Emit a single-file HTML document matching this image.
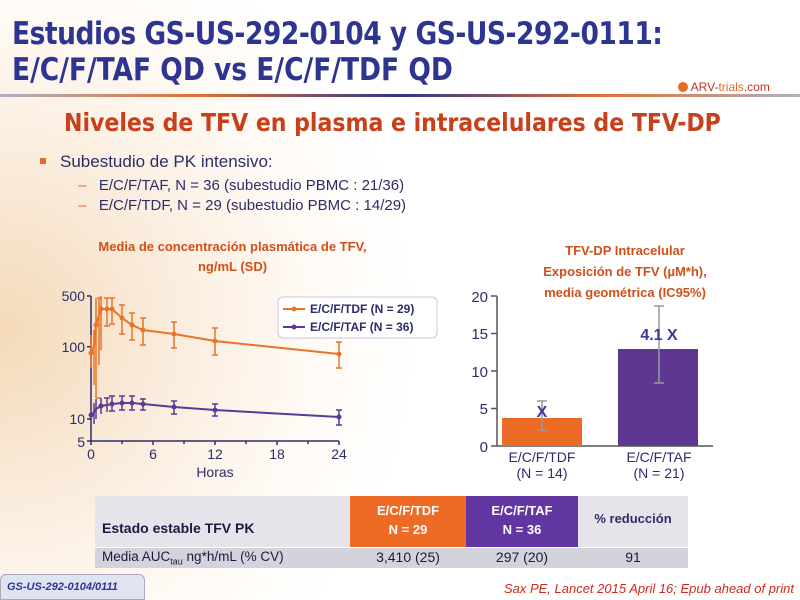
<!DOCTYPE html><html><head><meta charset="utf-8"><style>
body{margin:0;width:800px;height:600px;overflow:hidden;font-family:"Liberation Sans",sans-serif;position:relative;
background:radial-gradient(ellipse 420px 420px at 0px 330px,#f3d9b8 0%,#fbeee0 45%,#fffaf5 75%,#fff 100%);}
.a{position:absolute;white-space:nowrap}
.t{color:#2d3590;font-weight:bold;font-size:31px;left:12px;letter-spacing:-0.5px;font-family:"DejaVu Sans Condensed","Liberation Sans Narrow","Liberation Sans",sans-serif;transform:scaleX(0.95);transform-origin:0 0}
</style></head><body>
<div class="a t" style="top:16px">Estudios GS-US-292-0104 y GS-US-292-0111:</div>
<div class="a t" style="top:52px;letter-spacing:0px">E/C/F/TAF QD vs E/C/F/TDF QD</div>
<div class="a" style="left:0;top:94px;width:800px;height:3px;background:linear-gradient(90deg,#b0b0c0,#e07030 25%,#2d3590 50%,#e07030 75%,#b0b0c0)"></div>
<div class="a" style="left:678px;top:80px;font-size:12px;color:#c03020"><span style="display:inline-block;width:10px;height:10px;border-radius:5px;background:#e86a20;vertical-align:-1px"></span> ARV-<span style="color:#e86a20">trials</span>.com</div>
<div class="a" style="left:64px;top:108px;font-size:24.5px;font-weight:bold;color:#c8401a;font-family:'DejaVu Sans Condensed','Liberation Sans',sans-serif">Niveles de TFV en plasma e intracelulares de TFV-DP</div>
<div class="a" style="left:40px;top:152px;font-size:17px;color:#2d2d6a"><span style="display:inline-block;width:6px;height:6px;background:#e06a30;vertical-align:3px;margin-right:14px"></span>Subestudio de PK  intensivo:</div>
<div class="a" style="left:78px;top:177px;font-size:15px;color:#2d2d6a"><span style="color:#e06a30">–</span>&nbsp;&nbsp; E/C/F/TAF, N = 36 (subestudio PBMC : 21/36)</div>
<div class="a" style="left:78px;top:197px;font-size:15px;color:#2d2d6a"><span style="color:#e06a30">–</span>&nbsp;&nbsp; E/C/F/TDF, N = 29 (subestudio PBMC : 14/29)</div>
<div class="a" style="left:90px;top:237px;width:285px;text-align:center;font-size:13px;font-weight:bold;color:#d0501a;line-height:20px;white-space:normal">Media de concentración plasmática de TFV, ng/mL (SD)</div>
<div class="a" style="left:500px;top:240px;width:250px;text-align:center;font-size:13px;font-weight:bold;color:#d0501a;line-height:21px;white-space:normal">TFV-DP Intracelular<br>Exposición de TFV (µM*h),<br>media geométrica (IC95%)</div>
<svg class="a" style="left:0;top:0" width="800" height="600" font-family="Liberation Sans,sans-serif">
<g stroke="#2d2d6a" stroke-width="1.5" fill="none"><path d="M91 296V441H339"/>
<path d="M87 296H91M87 346.7H91M87 419H91M87 441H91M91 441v4M153 441v4M215 441v4M277 441v4M339 441v4M122 441v3M184 441v3M246 441v3M308 441v3"/></g>
<g fill="#2d2d6a" font-size="14" text-anchor="end"><text x="85" y="301">500</text><text x="85" y="352">100</text><text x="85" y="424">10</text><text x="85" y="447">5</text></g>
<g fill="#2d2d6a" font-size="14" text-anchor="middle"><text x="91" y="459">0</text><text x="153" y="459">6</text><text x="215" y="459">12</text><text x="277" y="459">18</text><text x="339" y="459">24</text><text x="215" y="477">Horas</text></g>
<g stroke="#e8742a" stroke-width="1.5" fill="#e8742a">
<polyline fill="none" stroke-width="2" points="91,353 94,346 96,325 99,315 101,309 107,309 112,309 122,318 132,325 143,330 174,334 215,341 339,354"/>
<path fill="none" d="M91,335V368M94,330V385M96,298V398M99,298V365M101,296V350M107,298V326M112,298V324M122,305V334M132,313V340M143,318V345M174,322V348M215,328V355M339,342V368M97,298h5M96,398h5M104,298h6M109,298h6M119,305h6M129,313h6M140,318h6M171,322h6M212,328h6M336,342h6M336,368h6M212,355h6M171,348h6M140,345h6M129,340h6M119,334h6M109,324h6M104,326h6"/>
<g stroke="none"><circle cx="91" cy="353" r="2.5"/><circle cx="96" cy="325" r="2.5"/><circle cx="101" cy="309" r="2.5"/><circle cx="107" cy="309" r="2.5"/><circle cx="112" cy="309" r="2.5"/><circle cx="122" cy="318" r="2.5"/><circle cx="132" cy="325" r="2.5"/><circle cx="143" cy="330" r="2.5"/><circle cx="174" cy="334" r="2.5"/><circle cx="215" cy="341" r="2.5"/><circle cx="339" cy="354" r="2.5"/></g></g>
<g stroke="#5a3a96" stroke-width="1.5" fill="#5a3a96">
<polyline fill="none" stroke-width="2" points="91,415 94,412 96,409 101,406 107,405 112,404 122,403 132,403 143,404 174,407 215,410 339,417"/>
<path fill="none" d="M94,403V424M96,399V419M101,398V414M107,398V412M112,396V411M122,396V410M132,396V410M143,399V410M174,401V414M215,404V416M339,410V425M104,398h6M109,396h6M119,396h6M129,396h6M140,399h6M171,401h6M212,404h6M336,410h6M336,425h6M212,416h6M171,414h6M140,410h6M129,410h6M119,410h6M109,411h6"/>
<g stroke="none"><circle cx="91" cy="415" r="2.5"/><circle cx="101" cy="406" r="2.5"/><circle cx="112" cy="404" r="2.5"/><circle cx="122" cy="403" r="2.5"/><circle cx="132" cy="403" r="2.5"/><circle cx="143" cy="404" r="2.5"/><circle cx="174" cy="407" r="2.5"/><circle cx="215" cy="410" r="2.5"/><circle cx="339" cy="417" r="2.5"/></g></g>
<rect x="278" y="297" width="159" height="41" rx="5" fill="#fff" stroke="#c8c8e0"/>
<path d="M283 309H305" stroke="#e8742a" stroke-width="2"/><circle cx="294" cy="309" r="2.5" fill="#e8742a"/>
<path d="M283 327H305" stroke="#5a3a96" stroke-width="2"/><circle cx="294" cy="327" r="2.5" fill="#5a3a96"/>
<g font-size="12" font-weight="bold" fill="#2d2d6a"><text x="310" y="313">E/C/F/TDF (N = 29)</text><text x="310" y="331">E/C/F/TAF (N = 36)</text></g>
<g stroke="#555" stroke-width="1.5" fill="none"><path d="M497 296V446H713M491 296H497M491 333.5H497M491 371H497M491 408.5H497M491 446H497"/></g>
<g fill="#2d2d6a" font-size="15" text-anchor="end"><text x="488" y="302">20</text><text x="488" y="339">15</text><text x="488" y="377">10</text><text x="488" y="414">5</text><text x="488" y="452">0</text></g>
<rect x="502" y="418" width="80" height="28" fill="#ee6b26"/><rect x="618" y="349" width="80" height="97" fill="#5e3791"/>
<g stroke="#999" stroke-width="1.5"><path d="M542 401V430M537 401h10M537 430h10M659 306V383M654 306h10M654 383h10"/></g>
<g fill="#3a3a9a" font-weight="bold" font-size="16" text-anchor="middle"><text x="542" y="417">X</text><text x="659" y="340">4.1 X</text></g>
<g fill="#2d2d6a" font-size="14" text-anchor="middle"><text x="542" y="462">E/C/F/TDF</text><text x="542" y="478">(N = 14)</text><text x="659" y="462">E/C/F/TAF</text><text x="659" y="478">(N = 21)</text></g>
</svg>
<div class="a" style="left:95px;top:496px;width:255px;height:51px;background:#e6e4ea"></div>
<div class="a" style="left:350px;top:496px;width:116px;height:51px;background:#ee6b26;color:#fff;font-size:13px;font-weight:bold;text-align:center;line-height:19px;padding-top:5px;box-sizing:border-box">E/C/F/TDF<br>N = 29</div>
<div class="a" style="left:466px;top:496px;width:112px;height:51px;background:#6236a0;color:#fff;font-size:13px;font-weight:bold;text-align:center;line-height:19px;padding-top:5px;box-sizing:border-box">E/C/F/TAF<br>N = 36</div>
<div class="a" style="left:578px;top:496px;width:110px;height:51px;background:#e6e4ea;color:#2d2d6a;font-size:13px;font-weight:bold;text-align:center;line-height:19px;padding-top:13px;box-sizing:border-box">% reducción</div>
<div class="a" style="left:102px;top:520px;font-size:14px;font-weight:bold;color:#1a1a40">Estado estable TFV PK</div>
<div class="a" style="left:95px;top:547px;width:593px;height:20px;background:#d4d2da;border-top:1px solid #fff"></div>
<div class="a" style="left:102px;top:549px;font-size:13.5px;color:#1a1a40">Media AUC<sub style="font-size:9px">tau</sub> ng*h/mL (% CV)</div>
<div class="a" style="left:350px;top:549px;width:116px;text-align:center;font-size:14px;color:#1a1a40">3,410 (25)</div>
<div class="a" style="left:466px;top:549px;width:112px;text-align:center;font-size:14px;color:#1a1a40">297 (20)</div>
<div class="a" style="left:578px;top:549px;width:110px;text-align:center;font-size:14px;color:#1a1a40">91</div>
<div class="a" style="left:0;top:574px;width:145px;height:26px;background:#dfe3f2;border:1px solid #aab;border-radius:6px 6px 0 0;color:#2d3590;font-size:11px;font-style:italic;font-weight:bold;line-height:24px;padding-left:6px;box-sizing:border-box">GS-US-292-0104/0111</div>
<div class="a" style="right:6px;top:581px;font-size:13px;font-style:italic;color:#d0281a">Sax PE, Lancet 2015 April 16; Epub ahead of print</div>
</body></html>
